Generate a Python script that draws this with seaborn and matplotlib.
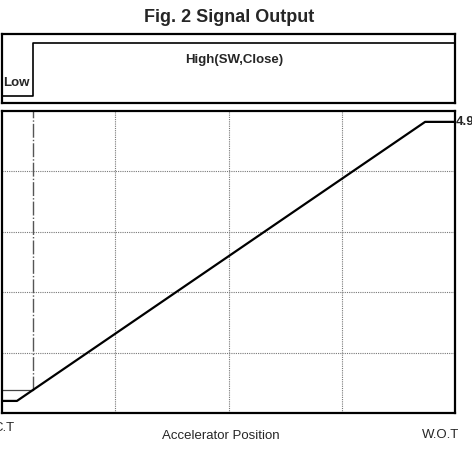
import numpy as np
import pandas as pd
import matplotlib
matplotlib.use('Agg')
import matplotlib.pyplot as plt
import seaborn as sns

# 信号数据 (横轴: 油门开度 %, 纵轴: 输出电压 V)
switch_x = [0, 6.8, 6.8, 100]
switch_y = [0, 0, 1, 1]
output_x = [0, 3.3, 93.4, 100]
output_y = [0.2, 0.2, 4.82, 4.82]
idle_x = [0, 6.8]
idle_y = [0.38, 0.38]
switch_point = 6.8
v_max_label = "4.9"
grid_x = [25, 50, 75]
grid_y = [1, 2, 3, 4]

sns.set_style("white")
plt.rcParams['font.family'] = ['Liberation Sans', 'DejaVu Sans']

W, H = 472, 454
fig = plt.figure(figsize=(W / 100, H / 100), dpi=100)

# 上图: 开关信号
ax1 = fig.add_axes([2 / W, (H - 103) / H, 453 / W, 69 / H])
sns.lineplot(x=switch_x, y=switch_y, ax=ax1, color="black", linewidth=1.2,
             sort=False, estimator=None)
ax1.set_xlim(0, 100)
ax1.set_ylim(-0.135, 1.17)
ax1.set_xticks([])
ax1.set_yticks([])
for s in ax1.spines.values():
    s.set_linewidth(1.6)
    s.set_color("black")
fig.text(234 / W, 1 - 60 / H, "High(SW,Close)", ha="center", va="center",
         fontsize=9.5, fontweight="bold")
fig.text(3 / W, 1 - 83 / H, "Low", ha="left", va="center", fontsize=9.5, fontweight="bold")

# 下图: 输出电压
ax2 = fig.add_axes([2 / W, 41 / H, 453 / W, 302 / H])
for gx in grid_x:
    ax2.axvline(gx, color="#777777", linestyle=(0, (1, 1)), linewidth=0.8)
for gy in grid_y:
    ax2.axhline(gy, color="#777777", linestyle=(0, (1, 1)), linewidth=0.8)
ax2.plot([switch_point, switch_point], [0.38, 5], color="#555555",
         linestyle=(0, (10, 1.5, 1, 1.5)), linewidth=1.0)
sns.lineplot(x=idle_x, y=idle_y, ax=ax2, color="#444444", linewidth=0.9, estimator=None)
sns.lineplot(x=output_x, y=output_y, ax=ax2, color="black", linewidth=1.6,
             sort=False, estimator=None)
ax2.set_xlim(0, 100)
ax2.set_ylim(0, 5)
ax2.set_xticks([])
ax2.set_yticks([])
for s in ax2.spines.values():
    s.set_linewidth(1.6)
    s.set_color("black")
fig.text(456 / W, 1 - 122 / H, v_max_label, ha="left", va="center", fontsize=9.5,
         fontweight="bold")

fig.text(229 / W, 1 - 17 / H, "Fig. 2 Signal Output", ha="center", va="center",
         fontsize=13, fontweight="bold")
fig.text(15 / W, 1 - 428 / H, "C.T", ha="right", va="center", fontsize=9.5)
fig.text(221 / W, 1 - 436 / H, "Accelerator Position", ha="center", va="center", fontsize=9.5)
fig.text(441 / W, 1 - 435 / H, "W.O.T", ha="center", va="center", fontsize=9.5)

fig.savefig("out.png", dpi=100)
